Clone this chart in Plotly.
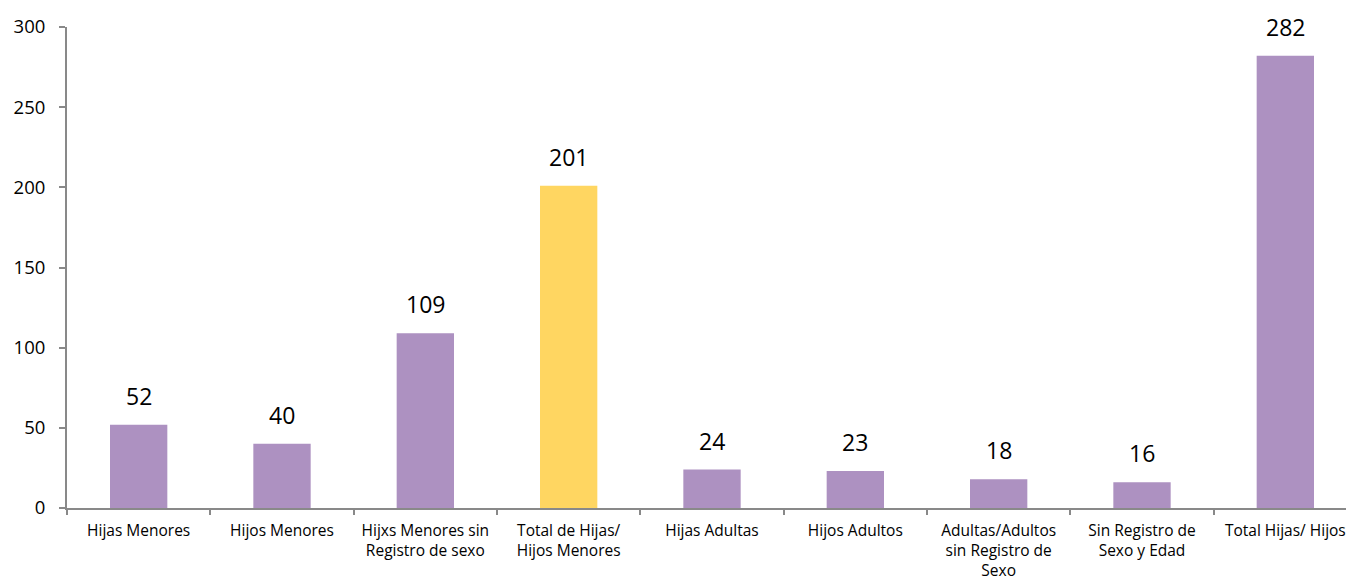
import plotly.graph_objects as go

categories = [
    "Hijas Menores", "Hijos Menores", "Hijxs Menores sin<br>Registro de sexo",
    "Total de Hijas/<br>Hijos Menores", "Hijas Adultas", "Hijos Adultos",
    "Adultas/Adultos<br>sin Registro de<br>Sexo", "Sin Registro de<br>Sexo y Edad",
    "Total Hijas/ Hijos",
]
values = [52, 40, 109, 201, 24, 23, 18, 16, 282]
colors = ["#AD91C1", "#AD91C1", "#AD91C1", "#FFD661", "#AD91C1",
          "#AD91C1", "#AD91C1", "#AD91C1", "#AD91C1"]
y_ticks = [0, 50, 100, 150, 200, 250, 300]

font_family = "'Open Sans', sans-serif"

fig = go.Figure(go.Bar(
    x=categories, y=values, marker_color=colors, marker_line_width=0,
    width=0.4, cliponaxis=False,
))

for c, v in zip(categories, values):
    fig.add_annotation(
        x=c, y=v, text=str(v), showarrow=False, yanchor="bottom",
        yshift=11, font=dict(size=23, color="black", family=font_family),
    )

fig.update_layout(
    width=1354, height=584,
    margin=dict(l=59, r=5, t=16, b=84),
    plot_bgcolor="white", paper_bgcolor="white",
    showlegend=False,
    font=dict(family=font_family, color="black"),
)
fig.update_xaxes(
    showline=True, linecolor="#898989", linewidth=2,
    ticks="outside", tickson="boundaries", ticklen=5, tickcolor="#898989",
    tickwidth=2, tickfont=dict(size=15.5), showgrid=False,
    ticklabelstandoff=7,
)
fig.update_yaxes(
    range=[0, 300], tickvals=y_ticks, showline=True, linecolor="#898989",
    linewidth=2, ticks="outside", ticklen=6, tickcolor="#898989", tickwidth=2,
    tickfont=dict(size=18.5), showgrid=False, zeroline=False,
    ticklabelstandoff=10,
)

fig.write_html("out.html")
